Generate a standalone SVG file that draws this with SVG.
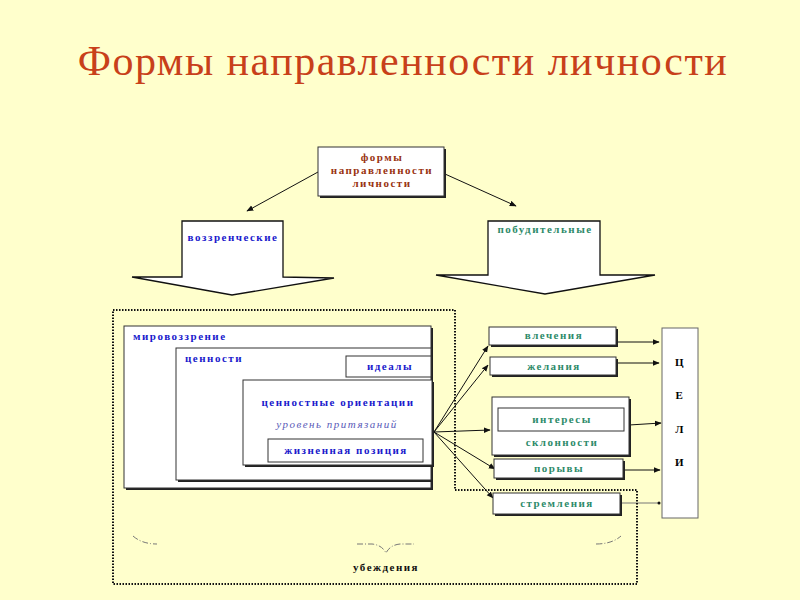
<svg xmlns="http://www.w3.org/2000/svg" width="800" height="600" viewBox="0 0 800 600">
<defs>
<style>
.bx{fill:#fff;stroke:#333;stroke-width:1}
.sh{fill:#222}
.t{font-family:"Liberation Serif",serif;font-weight:bold;font-size:11px;letter-spacing:1.5px}
.b{fill:#1a1acc}
.g{fill:#2e8b6a}
.ln{stroke:#111;stroke-width:1;fill:none}
.dot{fill:none;stroke:#111;stroke-width:2;stroke-dasharray:1.5 1.5}
.br{fill:none;stroke:#777;stroke-width:1;stroke-dasharray:6 2 1 2}
</style>
<marker id="ah" viewBox="0 0 10 10" refX="9" refY="5" markerWidth="7" markerHeight="7" orient="auto"><path d="M0,1 L10,5 L0,9 z" fill="#111"/></marker>
</defs>
<rect width="800" height="600" fill="#FFFFCC"/>
<text x="403" y="75" text-anchor="middle" font-family="Liberation Serif,serif" font-size="42" fill="#C8401A" letter-spacing="1.5">Формы направленности личности</text>

<g id="connectors">
<line class="ln" x1="318" y1="172" x2="247" y2="211" marker-end="url(#ah)"/>
<line class="ln" x1="445" y1="174" x2="516" y2="206" marker-end="url(#ah)"/>
<line class="ln" x1="434" y1="432" x2="488" y2="346" marker-end="url(#ah)"/>
<line class="ln" x1="434" y1="432" x2="488" y2="365" marker-end="url(#ah)"/>
<line class="ln" x1="434" y1="432" x2="490" y2="430" marker-end="url(#ah)"/>
<line class="ln" x1="434" y1="432" x2="495" y2="469" marker-end="url(#ah)"/>
<line class="ln" x1="434" y1="432" x2="493" y2="498" marker-end="url(#ah)" stroke-width="1.5"/>
<line class="ln" x1="616" y1="342" x2="659" y2="342" marker-end="url(#ah)" stroke-width="1.5"/>
<line class="ln" x1="616" y1="363" x2="659" y2="363" marker-end="url(#ah)"/>
<line class="ln" x1="629" y1="425" x2="661" y2="423" marker-end="url(#ah)"/>
<line class="ln" x1="623" y1="470" x2="660" y2="470" marker-end="url(#ah)"/>
<line x1="620" y1="503" x2="658" y2="503" stroke="#777" stroke-width="1"/>
<circle cx="659" cy="503" r="1.5" fill="#111"/>
</g>

<path class="dot" d="M113,310 H455 V490 H637 V584 H113 Z"/>

<g id="top">
<rect x="320" y="149" width="126" height="49" class="sh"/>
<rect x="318" y="147" width="126" height="49" class="bx"/>
<text class="t" fill="#993311" text-anchor="middle" x="382" y="161">формы</text>
<text class="t" fill="#993311" text-anchor="middle" x="382" y="174">направленности</text>
<text class="t" fill="#993311" text-anchor="middle" x="382" y="187">личности</text>
</g>

<g id="vozzr">
<path d="M182,221 H283 V277 L334,278 L232,295 L132,277 L182,277 Z" fill="#fff" stroke="#111" stroke-width="1.3"/>
<text class="t b" x="233" y="241" text-anchor="middle">воззренческие</text>
</g>
<g id="pobud">
<path d="M488,221 H600 V275 L655,275 L545,294 L436,275 L488,275 Z" fill="#fff" stroke="#111" stroke-width="1.3"/>
<text class="t g" x="545" y="233" text-anchor="middle">побудительные</text>
</g>

<g id="mirovozzrenie">
<rect x="126" y="328" width="307" height="162" class="sh"/>
<rect x="124" y="326" width="307" height="162" class="bx"/>
<text class="t b" x="133" y="340">мировоззрение</text>
</g>
<g id="cennosti">
<rect x="178" y="350" width="255" height="132" class="sh"/>
<rect x="176" y="348" width="255" height="132" class="bx"/>
<text class="t b" x="185" y="362">ценности</text>
</g>
<g id="idealy">
<rect x="346" y="356" width="85" height="21" class="bx"/>
<text class="t b" x="390" y="370" text-anchor="middle">идеалы</text>
</g>
<g id="orientacii">
<rect x="245" y="382" width="189" height="85" class="sh"/>
<rect x="243" y="380" width="189" height="85" class="bx"/>
<text class="t b" x="338" y="406" text-anchor="middle">ценностные ориентации</text>
<text x="337" y="428" text-anchor="middle" font-family="Liberation Serif,serif" font-style="italic" font-size="11" fill="#5a5ab8" letter-spacing="1.5">уровень притязаний</text>
</g>
<g id="poziciya">
<rect x="268" y="439" width="155" height="23" class="bx"/>
<text class="t b" x="346" y="454" text-anchor="middle">жизненная позиция</text>
</g>

<g id="vlecheniya">
<rect x="491" y="329" width="127" height="18" class="sh"/>
<rect x="489" y="327" width="127" height="18" class="bx"/>
<text class="t g" x="554" y="339" text-anchor="middle">влечения</text>
</g>
<g id="zhelaniya">
<rect x="492" y="359" width="126" height="18" class="sh"/>
<rect x="490" y="357" width="126" height="18" class="bx"/>
<text class="t g" x="554" y="370" text-anchor="middle">желания</text>
</g>
<g id="sklonnosti">
<rect x="494" y="399" width="137" height="58" class="sh"/>
<rect x="492" y="397" width="137" height="58" class="bx"/>
<rect x="498" y="408" width="126" height="23" class="bx" stroke-width="1.5"/>
<text class="t g" x="562" y="423" text-anchor="middle">интересы</text>
<text class="t g" x="562" y="446" text-anchor="middle">склонности</text>
</g>
<g id="poryvy">
<rect x="496" y="461" width="129" height="19" class="sh"/>
<rect x="494" y="459" width="129" height="19" class="bx"/>
<text class="t g" x="559" y="472" text-anchor="middle">порывы</text>
</g>
<g id="stremleniya">
<rect x="495" y="495" width="127" height="21" class="sh"/>
<rect x="493" y="493" width="127" height="21" class="bx"/>
<text class="t g" x="557" y="507" text-anchor="middle">стремления</text>
</g>
<g id="celi">
<rect x="662" y="328" width="36" height="190" fill="#fff" stroke="#666" stroke-width="1"/>
<text class="t" x="680" y="366" text-anchor="middle" letter-spacing="0">Ц</text>
<text class="t" x="680" y="399" text-anchor="middle" letter-spacing="0">Е</text>
<text class="t" x="680" y="433" text-anchor="middle" letter-spacing="0">Л</text>
<text class="t" x="680" y="466" text-anchor="middle" letter-spacing="0">И</text>
</g>

<g id="ubezhdeniya">
<path class="br" d="M133,536 Q142,544 157,544"/>
<path class="br" d="M357,544 H372 Q382,545 386,553 Q390,545 400,544 H414"/>
<path class="br" d="M596,544 Q612,544 621,536"/>
<text class="t" x="386" y="571" text-anchor="middle" fill="#111" font-size="9" letter-spacing="1">убеждения</text>
</g>
</svg>
